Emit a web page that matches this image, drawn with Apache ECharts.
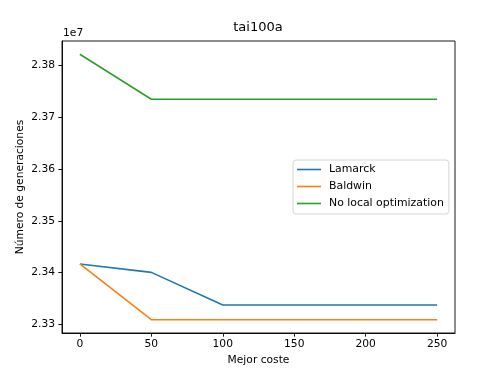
<!DOCTYPE html>
<html><head><meta charset="utf-8">
<script src="https://cdn.jsdelivr.net/npm/echarts@6/dist/echarts.min.js"></script>
<style>html,body{margin:0;padding:0;background:#fff}#c{width:492px;height:387px}</style>
</head><body><div id="c"></div>
<script>
const xValues = [0, 50, 100, 150, 200, 250];
const lamarck = [23416800, 23400600, 23337600, 23337600, 23337600, 23337600];
const baldwin = [23416800, 23309300, 23309300, 23309300, 23309300, 23309300];
const noLocal = [23821200, 23734400, 23734400, 23734400, 23734400, 23734400];
const xTicks = [0, 50, 100, 150, 200, 250];
const yTicks = [23300000, 23400000, 23500000, 23600000, 23700000, 23800000];
const seriesNames = ['Lamarck', 'Baldwin', 'No local optimization'];
const colors = ['#1f77b4', '#ff7f0e', '#2ca02c'];
const yAxisTitle = 'Número de generaciones';

const font = 'DejaVu Sans';
const chart = echarts.init(document.getElementById('c'), null, {renderer: 'canvas'});
const mk = (name, vals, color) => ({
  name, type: 'line', data: xValues.map((x, i) => [x, vals[i]]),
  showSymbol: false, symbol: 'none', lineStyle: {color, width: 1.6}, itemStyle: {color},
  animation: false
});
chart.setOption({
  animation: false,
  title: {text: 'tai100a', left: 258, top: 21, padding: 0, textAlign: 'center',
    textStyle: {fontFamily: font, fontSize: 13, fontWeight: 'normal', color: '#000'}},
  grid: {left: 62, right: 37, top: 41, bottom: 54, show: true, borderColor: '#000', borderWidth: 0.9, containLabel: false},
  legend: {
    orient: 'vertical', left: 293, top: 160, padding: [3, 5, 4, 4],
    data: seriesNames.map((n, i) => ({name: n, icon: 'rect', itemStyle: {color: colors[i]}})),
    itemWidth: 24, itemHeight: 1.6, itemGap: 4,
    backgroundColor: 'rgba(255,255,255,0.8)', borderColor: '#cccccc', borderWidth: 0.8, borderRadius: 3,
    textStyle: {fontFamily: font, fontSize: 10.9, lineHeight: 13, color: '#000', padding: [0, 0, 0, 3]}
  },
  xAxis: {
    type: 'value', min: -12.5, max: 262.5,
    name: 'Mejor coste', nameLocation: 'middle', nameGap: 22,
    nameTextStyle: {fontFamily: font, fontSize: 10.7, color: '#000'},
    axisLine: {show: true, onZero: false, lineStyle: {color: '#000', width: 0.9}},
    axisTick: {show: true, length: 3.7, customValues: xTicks, lineStyle: {color: '#000', width: 0.9}},
    axisLabel: {customValues: xTicks, fontFamily: font, fontSize: 10.7, color: '#000', margin: 6,
      formatter: v => String(v)},
    splitLine: {show: false}
  },
  yAxis: {
    type: 'value', min: 23283700, max: 23846800,
    axisLine: {show: true, onZero: false, lineStyle: {color: '#000', width: 0.9}},
    axisTick: {show: true, length: 3.7, customValues: yTicks, lineStyle: {color: '#000', width: 0.9}},
    axisLabel: {customValues: yTicks, fontFamily: font, fontSize: 10.7, color: '#000', margin: 7,
      formatter: v => (v / 1e7).toFixed(2)},
    splitLine: {show: false}
  },
  graphic: [
    {type: 'text', left: 63, top: 28, style: {text: '1e7', fontFamily: font, fontSize: 10.7, fill: '#000'}},
    {type: 'text', x: 20, y: 187, rotation: Math.PI / 2,
      style: {text: yAxisTitle, fontFamily: font, fontSize: 10.7, fill: '#000', align: 'center', verticalAlign: 'middle'}}
  ],
  series: [mk(seriesNames[0], lamarck, colors[0]), mk(seriesNames[1], baldwin, colors[1]), mk(seriesNames[2], noLocal, colors[2])]
});
</script></body></html>
